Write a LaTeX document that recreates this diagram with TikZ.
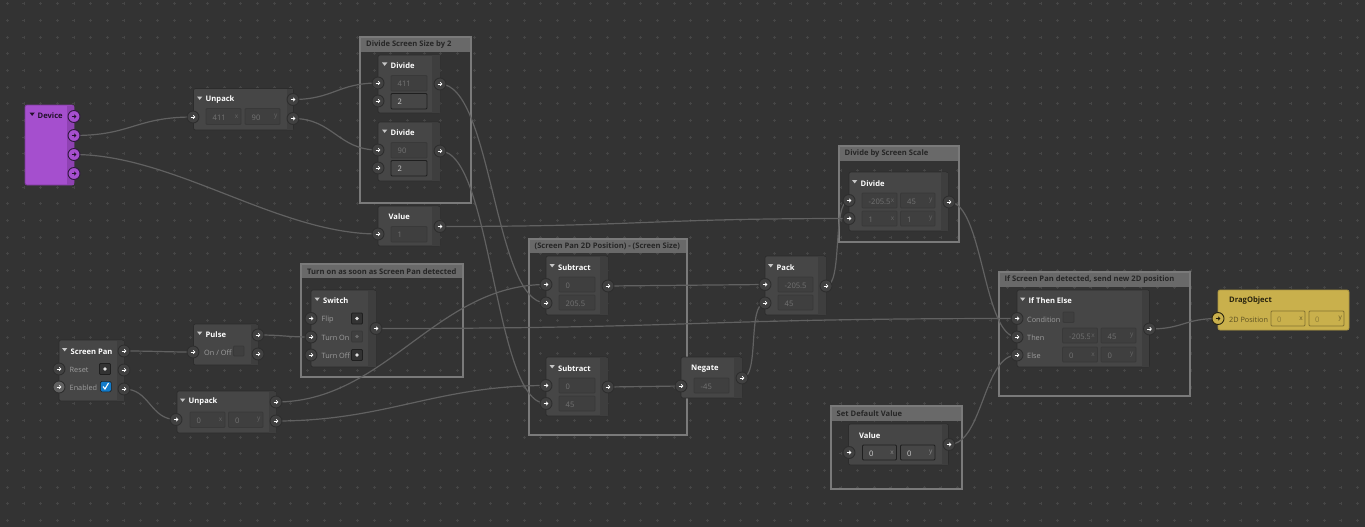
\documentclass[tikz,border=0pt]{standalone}
\usepackage{fontspec}
\setmainfont{Open Sans}
\usetikzlibrary{arrows.meta}
\pgfdeclarelayer{bottom}\pgfdeclarelayer{wires}
\pgfsetlayers{bottom,wires,main}
\definecolor{bgc}{HTML}{333333}
\definecolor{gridc}{HTML}{464646}
\definecolor{bodyc}{HTML}{464646}
\definecolor{bandc}{HTML}{3E3E3E}
\definecolor{edgec}{HTML}{2C2C2C}
\definecolor{framec}{HTML}{7A7A7A}
\definecolor{headc}{HTML}{696969}
\definecolor{wirec}{HTML}{616161}
\definecolor{portc}{HTML}{414141}
\definecolor{purp}{HTML}{A54FCE}
\definecolor{purpd}{HTML}{8F42B3}
\definecolor{yel}{HTML}{C9B04C}
\definecolor{fldc}{HTML}{3F3F3F}
\definecolor{fldb}{HTML}{393939}
\newcounter{autoid}
\tikzset{
  x=1pt,y=-1pt,
  nodebody/.style={draw=edgec,line width=.7pt,fill=bodyc,rounded corners=2pt,inner sep=0pt,outer sep=0pt},
  port/.style={circle,draw=black!82,line width=.9pt,fill=portc,minimum size=12pt,inner sep=0pt,outer sep=0pt},
  purport/.style={port,fill=purp,draw=black!70!purp},
  yelport/.style={port,fill=yel,draw=black!80!yel},
  wire/.style={draw=wirec,line width=1.2pt},
  frameb/.style={draw=framec,line width=2pt,inner sep=0pt,outer sep=0pt},
  headb/.style={fill=headc,inner sep=0pt,outer sep=0pt},
  title/.style={font=\fontsize{7.6}{9}\selectfont\bfseries,text=white,anchor=west,inner sep=0pt,yshift=-.9pt},
  gtitle/.style={font=\fontsize{7.6}{9}\selectfont\bfseries,text=black!85,anchor=west,inner sep=0pt,yshift=-.5pt},
  plabel/.style={font=\fontsize{7.3}{9}\selectfont,text=black!38,anchor=west,inner sep=0pt,yshift=-.9pt},
  ftext/.style={font=\fontsize{7.6}{9}\selectfont,text=black!55,anchor=west,inner sep=0pt,yshift=-.9pt},
  fsuf/.style={font=\fontsize{6.5}{8}\selectfont,text=black!60,anchor=east,inner sep=0pt,yshift=-.5pt},
  fbox/.style={fill=fldc,draw=fldb,line width=.8pt,rounded corners=1pt,inner sep=0pt,outer sep=0pt},
  ebox/.style={fill=bodyc,draw=black!88,line width=.9pt,rounded corners=1pt,inner sep=0pt,outer sep=0pt},
}
\newcommand{\bx}[5]{\stepcounter{autoid}\node[#1,anchor=north west,minimum width={(#4-#2)*1pt},minimum height={(#5-#3)*1pt}] (box\theautoid) at ({#2},{#3}) {};}
\newcommand{\txt}[4]{\stepcounter{autoid}\node[#1] (txt\theautoid) at ({#2},{#3}) {#4};}
\newcommand{\nbody}[6]{\node[nodebody,anchor=north west,minimum width={(#3-#1)*1pt},minimum height={(#4-#2)*1pt}] (#6) at (#1,#2) {};
  \fill[bandc] (#5,#2+.5) rectangle (#3-.5,#4-.5);}
\newcommand{\ntitle}[3]{\fill[black!22] (#1-8.5,#2-2.5) -- ++(5.3,0) -- ++(-2.65,3.4) -- cycle; \txt{title}{#1}{#2}{#3}}
\newcommand{\fld}[6]{\bx{fbox}{#1}{#2}{#3}{#4}
  \begin{scope}\clip (#1,#2) rectangle (#3-8,#4);\txt{ftext}{#1+6.5}{(#2+#4)/2}{#5}\end{scope}
  \txt{fsuf}{#3-2.5}{(#2+#4)/2-.5}{#6}}
\newcommand{\efld}[6]{\bx{ebox}{#1}{#2}{#3}{#4}
  \txt{ftext,text=black!18}{#1+6.5}{(#2+#4)/2}{#5}\txt{fsuf,text=black!45}{#3-2.5}{(#2+#4)/2-.5}{#6}}
\newcommand{\prt}[5]{\node[#1] (#2) at (#3,#4) {};
  \draw[#5,line width=.8pt,-{Straight Barb[length=1.6pt,width=3.4pt]}] (#3-2.4,#4) -- (#3+2.4,#4);}
\newcommand{\pw}[3]{\prt{port}{#1}{#2}{#3}{white}}
\newcommand{\grp}[6]{\begin{pgfonlayer}{bottom}
  \bx{headb}{#1}{#2}{#3}{#5}
  \bx{frameb}{#1}{#2}{#3}{#4}
  \txt{gtitle}{#1+6}{(#2+#5)/2}{#6}\end{pgfonlayer}}
\newcommand{\conn}[3]{\draw[wire] (#1.center) .. controls +(#3,0) and +(-#3,0) .. (#2.center);}
\newcommand{\btn}[2]{\bx{ebox,fill=bgc}{#1}{#2}{#1+11}{#2+11}\fill[black!12] (#1+5.5,#2+5.5) circle (1.9);}
\begin{document}
\begin{tikzpicture}
\useasboundingbox (0,0) rectangle (1365,527);
\begin{pgfonlayer}{bottom}
\fill[bgc] (0,0) rectangle (1365,527);
\draw[gridc,line width=.6pt] foreach \i in {0,...,81}{foreach \j in {0,...,31}{
   (5.8+\i*16.67,3.67+\j*16.67) -- ++(3,0) (7.3+\i*16.67,2.17+\j*16.67) -- ++(0,3)}};
\end{pgfonlayer}

% groups
\grp{360}{37}{471}{203}{52}{Divide Screen Size by 2}
\grp{301}{264}{463}{377}{278}{Turn on as soon as Screen Pan detected}
\grp{528.5}{238.5}{687}{435}{253}{(Screen Pan 2D Position) - (Screen Size)}
\grp{838.5}{145.5}{959}{241.5}{161}{Divide by Screen Scale}
\grp{830.5}{406}{961.5}{489}{421}{Set Default Value}
\grp{998.5}{272}{1190}{396}{287}{If Screen Pan detected, send new 2D position}

% Device
\node[nodebody,fill=purp,draw=black!25!purp,anchor=north west,minimum width=49pt,minimum height=80pt] (device) at (25,105) {};
\fill[purpd] (67,105.5) rectangle (73.5,184.5);
\fill[black!80!purp] (29.5,112.5) -- ++(5.3,0) -- ++(-2.65,3.4) -- cycle;
\txt{title,text=black!80!purp}{37.5}{115}{Device}
\prt{purport}{dva}{74}{116.5}{black!80!purp}
\prt{purport}{dvb}{74}{135.5}{black!80!purp}
\prt{purport}{dvc}{74}{154.5}{black!80!purp}
\prt{purport}{dvd}{74}{173.5}{black!80!purp}

% Unpack 1
\nbody{193.5}{88.5}{293.5}{130}{287}{unpa}
\ntitle{205.5}{99}{Unpack}
\fld{206}{108.5}{241}{124.5}{411}{x}
\fld{245}{108.5}{280}{124.5}{90}{y}
\pw{uai}{193}{117}\pw{uaa}{293}{99.5}\pw{uab}{293}{118.5}

% Divide 1
\nbody{378}{55}{440}{113}{432}{diva}
\ntitle{390.5}{65}{Divide}
\fld{391}{75.5}{427}{91}{411}{}
\efld{391}{93.5}{427}{109}{2}{}
\pw{dai}{378}{83}\pw{daj}{378}{101}\pw{dao}{440}{84}
% Divide 2
\nbody{378}{122}{440}{181}{432}{divb}
\ntitle{390.5}{132}{Divide}
\fld{391}{142.5}{427}{158}{90}{}
\efld{391}{160.5}{427}{176}{2}{}
\pw{dbi}{378}{150}\pw{dbj}{378}{168}\pw{dbo}{440}{151}
% Value 1
\nbody{378}{206}{440}{246}{432}{vala}
\txt{title}{388.5}{216}{Value}
\fld{391}{226.5}{427}{242}{1}{}
\pw{vai}{378}{234}\pw{vao}{440}{226.5}

% Screen Pan
\nbody{59}{340}{124}{401}{117}{span}
\ntitle{70.5}{350.5}{Screen Pan}
\txt{plabel}{69.5}{369}{Reset}
\txt{plabel}{69.5}{387}{Enabled}
\btn{99.5}{363.5}
\bx{fill=cyan!60!blue,rounded corners=1.5pt,draw=black!88,line width=.6pt,inner sep=0pt}{100}{381}{111}{391.5}
\draw[white,line width=1.1pt] (103,386.5) -- (105,389) -- (108.5,383);
\pw{spi}{59}{369}
\prt{port,fill=black!62}{spj}{59}{387}{white}
\pw{spa}{124}{351}\pw{spb}{124}{370}\pw{spc}{124}{389}

% Pulse
\nbody{193.5}{324}{258}{365}{251}{puls}
\ntitle{205.5}{334}{Pulse}
\txt{plabel}{204}{352}{On / Off}
\bx{fbox}{233.5}{346}{244}{356}
\pw{pui}{193}{352}\pw{pua}{258}{335}\pw{pub}{258}{354}

% Unpack 2
\nbody{177}{391}{276}{433}{269}{unpb}
\ntitle{188.5}{401}{Unpack}
\fld{190}{412}{225}{427.5}{0}{x}
\fld{228.5}{412}{263}{427.5}{0}{y}
\pw{ubi}{176}{419.5}\pw{uba}{276}{402}\pw{ubb}{276}{421}

% Switch
\nbody{311}{290}{376}{367}{368}{swit}
\ntitle{323}{300}{Switch}
\txt{plabel}{321.5}{318.5}{Flip}
\txt{plabel}{321.5}{337}{Turn On}
\txt{plabel}{321.5}{355}{Turn Off}
\btn{351.5}{313}
\bx{fbox}{351.5}{331}{362.5}{342}
\fill[black!58] (357,336.5) circle (1.8);
\btn{351.5}{349.5}
\pw{swa}{311}{318.5}\pw{swb}{311}{337}\pw{swc}{311}{355}\pw{swo}{376}{328.5}

% Subtract 1
\nbody{546}{256}{608}{315}{600}{suba}
\ntitle{558}{266.5}{Subtract}
\fld{559}{277}{595}{292}{0}{}
\fld{559}{295}{595}{310}{205.5}{}
\pw{sai}{546}{284.5}\pw{saj}{546}{303}\pw{sao}{608}{286}
% Subtract 2
\nbody{546}{357}{608}{416}{600}{subb}
\ntitle{558}{367.5}{Subtract}
\fld{559}{378}{595}{393}{0}{}
\fld{559}{396}{595}{411}{45}{}
\pw{sbi}{546}{385.5}\pw{sbj}{546}{403.5}\pw{sbo}{608}{387}
% Negate
\nbody{681}{357}{742}{398}{734}{nega}
\txt{title}{691}{367.5}{Negate}
\fld{694}{378}{729}{393}{-45}{}
\pw{nei}{681}{386}\pw{neo}{742}{378}
% Pack
\nbody{765}{256}{826}{315}{818}{pack}
\ntitle{776.5}{266.5}{Pack}
\fld{778}{277}{813}{292}{-205.5}{}
\fld{778}{295}{813}{310}{45}{}
\pw{pai}{765}{284.5}\pw{paj}{765}{303}\pw{pao}{826}{286}
% Divide 3
\nbody{849}{172}{948}{231}{941}{divc}
\ntitle{860.5}{182.5}{Divide}
\fld{862}{193}{897}{208}{-205.5}{x}
\fld{900.5}{193}{935}{208}{45}{y}
\fld{862}{211}{897}{226}{1}{x}
\fld{900.5}{211}{935}{226}{1}{y}
\pw{dci}{849}{200.5}\pw{dcj}{849}{218.5}\pw{dco}{949}{202}
% Value 2
\nbody{848.5}{424}{948.5}{465}{941.5}{valb}
\txt{title}{859}{434.5}{Value}
\efld{862.5}{445}{896.5}{460}{0}{x}
\efld{900.5}{445}{935}{460}{0}{y}
\pw{vbi}{849}{452.5}\pw{vbo}{949}{444.5}
% If Then Else
\nbody{1017}{290}{1149.5}{367}{1142}{ifte}
\ntitle{1028.5}{300}{If Then Else}
\txt{plabel}{1027}{318.5}{Condition}
\txt{plabel}{1027}{337}{Then}
\txt{plabel}{1027}{355}{Else}
\bx{fbox}{1063}{312}{1074}{322.5}
\fld{1062.5}{328}{1097.5}{343}{-205.5}{x}
\fld{1101}{328}{1136}{343}{45}{y}
\fld{1062.5}{347}{1097.5}{362}{0}{x}
\fld{1101}{347}{1136}{362}{0}{y}
\pw{ifa}{1017}{318.5}\pw{ifb}{1017}{337}\pw{ifc}{1017}{355}\pw{ifo}{1149.5}{329}
% DragObject
\node[nodebody,fill=yel,draw=black!15!yel,anchor=north west,minimum width=131pt,minimum height=40pt] (drag) at (1218,290) {};
\txt{title,text=black!80!yel}{1229}{300}{DragObject}
\txt{plabel,text=black!55!yel}{1229}{318.5}{2D Position}
\bx{fbox,fill=yel,draw=black!35!yel}{1271}{311}{1305}{326}
\txt{ftext,text=black!30!yel}{1277}{318.5}{0}
\txt{fsuf,text=black!50!yel}{1303}{318}{x}
\bx{fbox,fill=yel,draw=black!35!yel}{1309}{311}{1344}{326}
\txt{ftext,text=black!30!yel}{1315}{318.5}{0}
\txt{fsuf,text=black!50!yel}{1342}{318}{y}
\prt{yelport}{dri}{1218}{318.5}{black!85!yel}

% wires
\begin{pgfonlayer}{wires}
\conn{dvb}{uai}{58}
\conn{dvc}{vai}{100}
\conn{uaa}{dai}{40}
\conn{uab}{dbi}{40}
\conn{dao}{saj}{52}
\conn{dbo}{sbj}{52}
\conn{vao}{dcj}{200}
\conn{spa}{pui}{30}
\conn{spc}{ubi}{26}
\conn{pua}{swb}{26}
\conn{swo}{ifa}{320}
\conn{uba}{sai}{110}
\conn{ubb}{sbi}{110}
\conn{sao}{pai}{78}
\conn{sbo}{nei}{36}
\conn{neo}{paj}{18}
\conn{pao}{dci}{17}
\conn{dco}{ifb}{34}
\conn{vbo}{ifc}{34}
\conn{ifo}{dri}{34}
\end{pgfonlayer}
\end{tikzpicture}
\end{document}
